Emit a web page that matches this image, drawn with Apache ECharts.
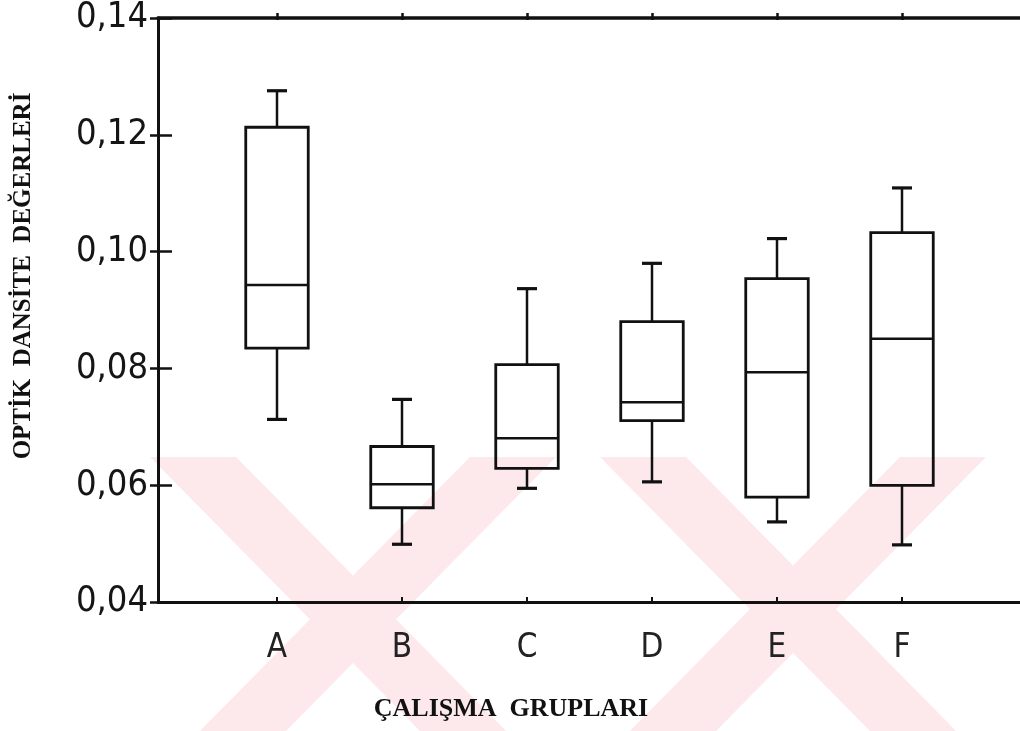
<!DOCTYPE html>
<html>
<head>
<meta charset="utf-8">
<script src="https://cdn.jsdelivr.net/npm/echarts@6/dist/echarts.min.js"></script>
<style>
html,body{margin:0;padding:0;background:#ffffff;}
#chart{width:1020px;height:731px;}
</style>
</head>
<body>
<div id="chart"></div>
<script>
// ---- data ----
const categories = ['A', 'B', 'C', 'D', 'E', 'F'];
const whiskerLow  = [0.0710, 0.0498, 0.0593, 0.0604, 0.0536, 0.0497];
const quartile1   = [0.0831, 0.0560, 0.0627, 0.0708, 0.0578, 0.0598];
const medianVals  = [0.0938, 0.0600, 0.0678, 0.0739, 0.0790, 0.0847];
const quartile3   = [0.1206, 0.0664, 0.0803, 0.0876, 0.0949, 0.1027];
const whiskerHigh = [0.1268, 0.0744, 0.0932, 0.0975, 0.1017, 0.1103];
const yMin = 0.04, yMax = 0.14, yStep = 0.02;
const yTitle = 'OPTİK  DANSİTE  DEĞERLERİ';
const xTitle = 'ÇALIŞMA  GRUPLARI';

const ink = '#111111';
const pink = '#fde8ec';
const labelFont = "'Liberation Sans Narrow', 'DejaVu Sans Condensed', 'Roboto Condensed', sans-serif";

const boxData = categories.map((c, i) => [i, whiskerLow[i], quartile1[i], medianVals[i], quartile3[i], whiskerHigh[i]]);

function renderBox(params, api) {
  const idx = api.value(0);
  const slot = api.size([1, 0])[0];
  const half = slot * 0.25;
  const cap = slot * 0.08;
  const pLow = api.coord([idx, api.value(1)]);
  const pQ1 = api.coord([idx, api.value(2)]);
  const pMed = api.coord([idx, api.value(3)]);
  const pQ3 = api.coord([idx, api.value(4)]);
  const pHigh = api.coord([idx, api.value(5)]);
  const x = pMed[0];
  const thin = { stroke: ink, lineWidth: 2.5, fill: null };
  const thick = { stroke: ink, lineWidth: 3.2, fill: null };
  return {
    type: 'group',
    children: [
      { type: 'rect', shape: { x: x - half, y: pQ3[1], width: half * 2, height: pQ1[1] - pQ3[1] }, style: Object.assign({}, thin, { lineWidth: 2.8 }) },
      { type: 'line', shape: { x1: x - half, y1: pMed[1], x2: x + half, y2: pMed[1] }, style: thin },
      { type: 'line', shape: { x1: x, y1: pQ3[1], x2: x, y2: pHigh[1] }, style: thin },
      { type: 'line', shape: { x1: x, y1: pQ1[1], x2: x, y2: pLow[1] }, style: thin },
      { type: 'line', shape: { x1: x - cap, y1: pHigh[1], x2: x + cap, y2: pHigh[1] }, style: thick },
      { type: 'line', shape: { x1: x - cap, y1: pLow[1], x2: x + cap, y2: pLow[1] }, style: thick }
    ]
  };
}

function stripe(pts) {
  return { type: 'polygon', z: -10, silent: true, shape: { points: pts }, style: { fill: pink } };
}

const chart = echarts.init(document.getElementById('chart'), null, { renderer: 'canvas' });
chart.setOption({
  animation: false,
  backgroundColor: '#ffffff',
  graphic: [
    stripe([[150, 457], [236, 457], [506, 731], [420, 731]]),
    stripe([[470, 457], [556, 457], [286, 731], [200, 731]]),
    stripe([[600, 457], [686, 457], [956, 731], [870, 731]]),
    stripe([[900, 457], [986, 457], [716, 731], [630, 731]]),
    {
      type: 'text', z: 10, x: 24, y: 276, rotation: Math.PI / 2,
      style: { text: yTitle, font: "bold 25px 'Liberation Serif', 'Times New Roman', serif", fill: ink, align: 'center', verticalAlign: 'middle' }
    },
    {
      type: 'text', z: 10, x: 511, y: 709,
      style: { text: xTitle, font: "bold 26px 'Liberation Serif', 'Times New Roman', serif", fill: ink, align: 'center', verticalAlign: 'middle' }
    }
  ],
  grid: [
    { left: 158, right: -2, top: 13, bottom: 129 },
    { left: 214.5, width: 750, top: 13, bottom: 129 }
  ],
  xAxis: [
    { gridIndex: 0, type: 'value', min: 0, max: 1, position: 'bottom',
      axisLine: { show: true, lineStyle: { color: ink, width: 3 } },
      axisTick: { show: false }, axisLabel: { show: false }, splitLine: { show: false } },
    { gridIndex: 0, type: 'value', min: 0, max: 1, position: 'top',
      axisLine: { show: true, lineStyle: { color: ink, width: 3.5 } },
      axisTick: { show: false }, axisLabel: { show: false }, splitLine: { show: false } },
    { gridIndex: 1, type: 'category', data: categories, position: 'bottom',
      axisLine: { show: false },
      axisTick: { show: true, inside: true, alignWithLabel: true, length: 5, lineStyle: { color: ink, width: 2 } },
      axisLabel: { show: true, margin: 30, color: '#222222', fontSize: 33, fontFamily: labelFont },
      splitLine: { show: false } },
    { gridIndex: 1, type: 'category', data: categories, position: 'top',
      axisLine: { show: false },
      axisTick: { show: true, inside: true, alignWithLabel: true, length: 7, lineStyle: { color: ink, width: 2.5 } },
      axisLabel: { show: false }, splitLine: { show: false } }
  ],
  yAxis: [
    { gridIndex: 0, type: 'value', min: yMin, max: yMax, interval: yStep, position: 'left',
      axisLine: { show: true, lineStyle: { color: ink, width: 3 } },
      axisTick: { show: true, inside: true, length: 14, lineStyle: { color: ink, width: 2.5 } },
      axisLabel: { show: true, margin: 10, color: '#151515', fontSize: 36, fontFamily: labelFont,
        formatter: v => v.toFixed(2).replace('.', ',') },
      splitLine: { show: false } },
    { gridIndex: 0, type: 'value', min: yMin, max: yMax, interval: yStep, position: 'right',
      axisLine: { show: true, lineStyle: { color: ink, width: 3 } },
      axisTick: { show: true, inside: true, length: 8, lineStyle: { color: ink, width: 2.5 } },
      axisLabel: { show: false }, splitLine: { show: false } },
    { gridIndex: 1, type: 'value', min: yMin, max: yMax, interval: yStep, show: false, splitLine: { show: false } }
  ],
  series: [
    {
      type: 'custom', name: 'Optik dansite', xAxisIndex: 2, yAxisIndex: 2,
      renderItem: renderBox, data: boxData, clip: false,
      encode: { x: 0, y: [1, 2, 3, 4, 5] }
    }
  ]
});
</script>
</body>
</html>
